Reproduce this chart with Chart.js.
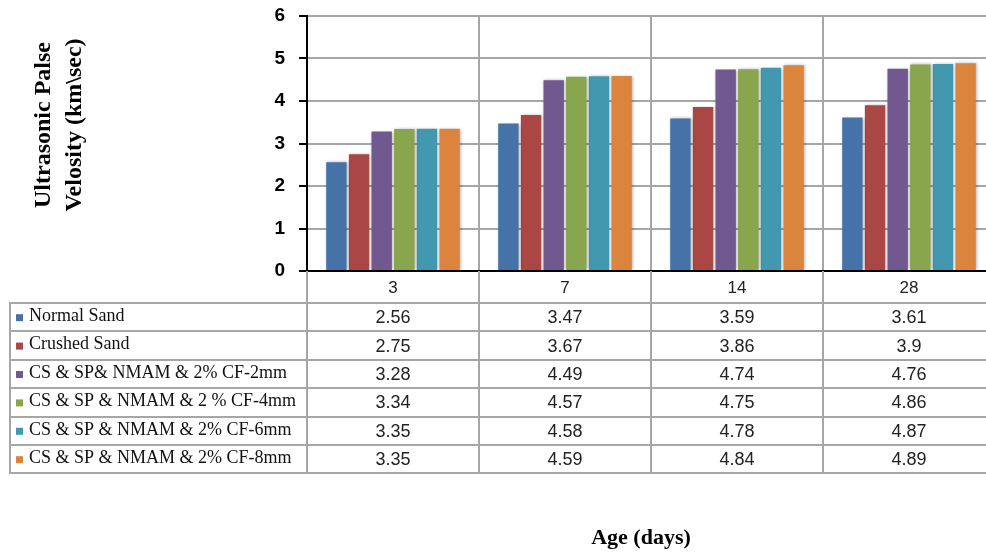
<!DOCTYPE html>
<html>
<head>
<meta charset="utf-8">
<title>Ultrasonic Pulse Velocity</title>
<script src="https://cdn.jsdelivr.net/npm/chart.js@4.4.1/dist/chart.umd.min.js"></script>
<style>
  html, body { margin: 0; padding: 0; background: #fff; overflow: hidden; }
  #wrap { width: 995px; height: 554px; }
</style>
</head>
<body>
<div id="wrap"><canvas id="upv" width="995" height="554"></canvas></div>
<script>
// ages in days
const ages = ['3', '7', '14', '28'];

// pulse velocity, km/sec
const normalSand  = [2.56, 3.47, 3.59, 3.61];
const crushedSand = [2.75, 3.67, 3.86, 3.9];
const cf2mm = [3.28, 4.49, 4.74, 4.76];
const cf4mm = [3.34, 4.57, 4.75, 4.86];
const cf6mm = [3.35, 4.58, 4.78, 4.87];
const cf8mm = [3.35, 4.59, 4.84, 4.89];

const seriesNames = [
  'Normal Sand',
  'Crushed Sand',
  'CS & SP& NMAM & 2% CF-2mm',
  'CS & SP & NMAM & 2 % CF-4mm',
  'CS & SP & NMAM & 2% CF-6mm',
  'CS & SP & NMAM & 2% CF-8mm'
];
const seriesValues = [normalSand, crushedSand, cf2mm, cf4mm, cf6mm, cf8mm];
const colors = ['#4572A7', '#AA4643', '#71588F', '#89A54E', '#4198AF', '#DB843D'];

const yTicks = [0, 1, 2, 3, 4, 5, 6];
const yTitle = ['Ultrasonic Palse', 'Velosity (km\\sec)'];
const xTitle = 'Age (days)';

const SANS = '"Liberation Sans", Arial, sans-serif';
const SERIF = '"Liberation Serif", "Times New Roman", serif';
const TABLE_TOP = 303;
const ROW_H = 28.4;

// soft drop shadow behind the bars
const barShadow = {
  id: 'barShadow',
  beforeDatasetsDraw(chart) {
    const ctx = chart.ctx;
    ctx.save();
    ctx.shadowColor = 'rgba(0,0,0,0.28)';
    ctx.shadowBlur = 3;
    ctx.shadowOffsetX = 1;
    ctx.shadowOffsetY = 0;
  },
  afterDatasetsDraw(chart) {
    chart.ctx.restore();
  }
};

// data table under the axis, plus both axis titles
const dataTable = {
  id: 'dataTable',
  afterDraw(chart) {
    const ctx = chart.ctx;
    const x = chart.scales.x;
    const area = chart.chartArea;
    const half = (x.getPixelForValue(1) - x.getPixelForValue(0)) / 2;
    const bottom = TABLE_TOP + ROW_H * seriesNames.length;

    ctx.save();
    ctx.strokeStyle = '#a6a6a6';
    ctx.lineWidth = 2;

    // column dividers running down through the label row and table
    for (let i = 0; i <= ages.length; i++) {
      const px = Math.round(x.getPixelForValue(i) - half);
      ctx.beginPath();
      ctx.moveTo(px, area.bottom);
      ctx.lineTo(px, bottom);
      ctx.stroke();
    }
    // row lines
    for (let r = 0; r <= seriesNames.length; r++) {
      const py = Math.round(TABLE_TOP + r * ROW_H);
      ctx.beginPath();
      ctx.moveTo(9, py);
      ctx.lineTo(area.right, py);
      ctx.stroke();
    }
    ctx.beginPath();
    ctx.moveTo(10, TABLE_TOP);
    ctx.lineTo(10, bottom);
    ctx.stroke();

    // legend keys, names and values
    ctx.textBaseline = 'middle';
    seriesNames.forEach((name, r) => {
      const cy = TABLE_TOP + (r + 0.5) * ROW_H;
      ctx.fillStyle = colors[r];
      ctx.fillRect(16, cy - 3, 7, 7);
      ctx.fillStyle = '#111';
      ctx.font = '18px ' + SERIF;
      ctx.textAlign = 'left';
      ctx.fillText(name, 29, cy - 1);
      ctx.font = '18px ' + SANS;
      ctx.fillStyle = '#222';
      ctx.textAlign = 'center';
      seriesValues[r].forEach((v, c) => {
        ctx.fillText(String(v), x.getPixelForValue(c), cy + 1);
      });
    });

    // axis titles
    ctx.fillStyle = '#000';
    ctx.font = 'bold 22px ' + SERIF;
    ctx.textAlign = 'center';
    ctx.fillText(xTitle, 641, 538);

    ctx.save();
    ctx.translate(44, 125);
    ctx.rotate(-Math.PI / 2);
    ctx.font = 'bold 24px ' + SERIF;
    ctx.fillText(yTitle[0], 0, 0);
    ctx.fillText(yTitle[1], 0, 31);
    ctx.restore();

    ctx.restore();
  }
};

new Chart(document.getElementById('upv'), {
  type: 'bar',
  data: {
    labels: ages,
    datasets: seriesNames.map((name, i) => ({
      label: name,
      data: seriesValues[i],
      backgroundColor: colors[i],
      borderWidth: 0,
      barPercentage: 0.9,
      categoryPercentage: 0.79
    }))
  },
  options: {
    responsive: false,
    animation: false,
    devicePixelRatio: 1,
    layout: { padding: { top: 16, left: 0, right: 0, bottom: 0 } },
    plugins: {
      legend: { display: false },
      tooltip: { enabled: false }
    },
    scales: {
      x: {
        afterFit(scale) { scale.height = 283; },
        grid: { color: '#a6a6a6', lineWidth: 2, drawTicks: false },
        border: { color: '#000', width: 2 },
        ticks: {
          padding: 7,
          color: '#222',
          font: { family: SANS, size: 17 }
        }
      },
      y: {
        min: 0,
        max: 6,
        afterFit(scale) {
          scale.width = 307;
          scale.paddingTop = 0;
          scale.paddingBottom = 0;
        },
        afterBuildTicks(scale) { scale.ticks = yTicks.map(v => ({ value: v })); },
        grid: { color: '#a6a6a6', lineWidth: 2, tickColor: '#000', tickLength: 8 },
        border: { color: '#000', width: 2 },
        ticks: {
          padding: 14,
          color: '#000',
          font: { family: SANS, size: 19, weight: 'bold' }
        }
      }
    }
  },
  plugins: [barShadow, dataTable]
});
</script>
</body>
</html>
